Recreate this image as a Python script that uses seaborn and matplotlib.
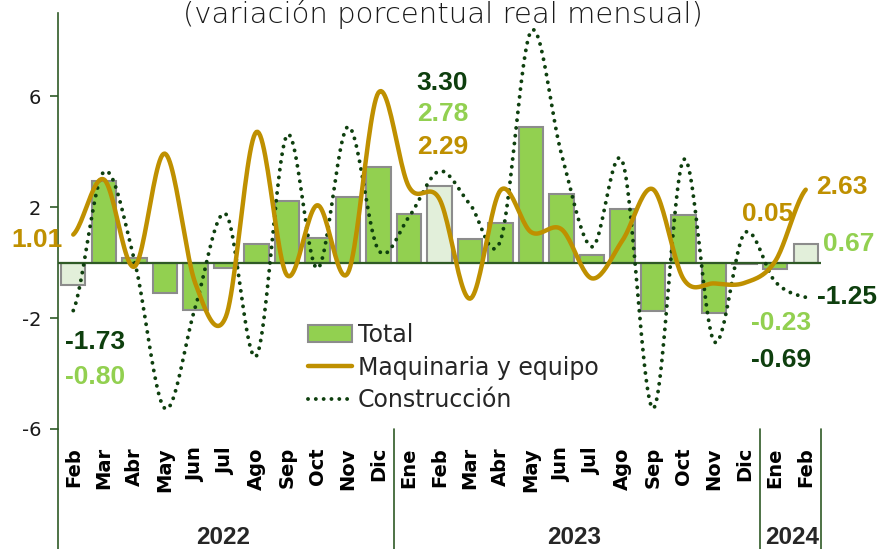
import numpy as np
import pandas as pd
import matplotlib
matplotlib.use('Agg')
import matplotlib.pyplot as plt
from matplotlib.patches import Patch
from matplotlib.lines import Line2D
import seaborn as sns

# --- Data (variación porcentual real mensual) ---
meses = ['Feb', 'Mar', 'Abr', 'May', 'Jun', 'Jul', 'Ago', 'Sep', 'Oct', 'Nov', 'Dic',
         'Ene', 'Feb', 'Mar', 'Abr', 'May', 'Jun', 'Jul', 'Ago', 'Sep', 'Oct', 'Nov', 'Dic',
         'Ene', 'Feb']
anios = ['2022', '2023', '2024']
total = [-0.80, 2.94, 0.17, -1.11, -1.71, -0.19, 0.67, 2.22, 0.89, 2.35, 3.43,
         1.76, 2.78, 0.85, 1.43, 4.88, 2.49, 0.26, 1.94, -1.74, 1.70, -1.82, -0.05,
         -0.23, 0.67]
maquinaria = [1.01, 3.00, -0.15, 3.93, -0.75, -1.95, 4.71, -0.45, 2.07, -0.37, 6.13,
              2.73, 2.29, -1.30, 2.61, 1.10, 1.20, -0.57, 0.81, 2.64, -0.60, -0.75, -0.73,
              0.05, 2.63]
construccion = [-1.73, 3.27, 0.10, -5.26, -1.60, 1.75, -3.37, 4.59, -0.21, 4.90, 0.45,
                1.65, 3.30, 2.10, 0.80, 8.35, 3.90, 0.57, 3.63, -5.26, 3.72, -2.85, 1.07,
                -0.69, -1.25]

VERDE = '#92D050'
VERDE_CLARO = '#E2EFDA'
ORO = '#BF9000'
OSCURO = '#0E3F0E'
EJE = '#2F5A26'


def suavizar(y, n=24):
    """Excel-like smoothed line (Catmull-Rom bezier) through the points."""
    y = np.asarray(y, float)
    p = np.concatenate([[y[0]], y, [y[-1]]])
    xs, ys = [], []
    t = np.linspace(0, 1, n, endpoint=False)
    for i in range(len(y) - 1):
        p0, p1, p2, p3 = p[i], p[i + 1], p[i + 2], p[i + 3]
        c1 = p1 + (p2 - p0) / 6
        c2 = p2 - (p3 - p1) / 6
        yy = (1 - t) ** 3 * p1 + 3 * (1 - t) ** 2 * t * c1 + 3 * (1 - t) * t ** 2 * c2 + t ** 3 * p2
        xs.append(i + t)
        ys.append(yy)
    xs.append([len(y) - 1])
    ys.append([y[-1]])
    return np.concatenate(xs), np.concatenate(ys)


sns.set_theme(style='white')
plt.rcParams['font.family'] = ['DejaVu Sans']
plt.rcParams['axes.unicode_minus'] = False

fig = plt.figure(figsize=(8.88, 5.49), dpi=100)
ax = fig.add_axes([58 / 888, 120 / 549, 763 / 888, 416 / 549])

df = pd.DataFrame({'pos': range(len(meses)), 'total': total})
colores = [VERDE_CLARO if m == 'Feb' else VERDE for m in meses]
sns.barplot(data=df, x='pos', y='total', hue='pos', palette=colores, legend=False,
            width=0.8, saturation=1, edgecolor='#8C8C8C', linewidth=1.5, ax=ax, zorder=2)

ax.axhline(0, color=EJE, lw=1.6, zorder=2.5)

xm, ym = suavizar(maquinaria)
sns.lineplot(x=xm, y=ym, color=ORO, lw=3.2, sort=False, estimator=None, ax=ax, zorder=4)
xc, yc = suavizar(construccion)
sns.lineplot(x=xc, y=yc, color=OSCURO, lw=2.8, sort=False, estimator=None, ax=ax,
             linestyle=(0, (0.01, 2.0)), dash_capstyle='round', zorder=3)

ax.set_xlim(-0.5, len(meses) - 0.5)
ax.set_ylim(-6, 9)
ax.set_xlabel('')
ax.set_ylabel('')
for s in ['top', 'right', 'bottom']:
    ax.spines[s].set_visible(False)
ax.spines['left'].set_color(EJE)
ax.spines['left'].set_linewidth(1.2)

ax.set_yticks([-6, -2, 2, 6])
ax.set_yticklabels(['-6', '-2', '2', '6'])
ax.tick_params(axis='y', direction='out', length=6, width=1.2, color=EJE,
               labelsize=14, labelcolor='#1a1a1a', pad=6, left=True)
ax.set_xticks(range(len(meses)))
ax.set_xticklabels(meses, rotation=90, fontweight='bold', fontsize=14, color='black')
ax.tick_params(axis='x', length=0, pad=13)

# category separators below the axis
for xv in [-0.5, 10.5, 22.5, 24.5]:
    ax.add_line(Line2D([xv, xv], [0, -0.3], transform=ax.get_xaxis_transform(),
                       color=EJE, lw=1.2, clip_on=False))

for txt, xv in zip(anios, [4.9, 16.4, 23.55]):
    ax.text(xv, -0.262, txt, transform=ax.get_xaxis_transform(), ha='center', va='center',
            fontsize=17.5, fontweight='bold', family='Liberation Sans')

# value labels
etiquetas = [
    ('1.01', -1.20, 0.81, ORO),
    ('-1.73', 0.70, -2.86, OSCURO),
    ('-0.80', 0.70, -4.13, VERDE),
    ('3.30', 12.10, 6.47, OSCURO),
    ('2.78', 12.10, 5.35, VERDE),
    ('2.29', 12.10, 4.16, ORO),
    ('0.05', 22.75, 1.75, ORO),
    ('2.63', 25.20, 2.71, ORO),
    ('0.67', 25.40, 0.67, VERDE),
    ('-1.25', 25.35, -1.25, OSCURO),
    ('-0.23', 23.20, -2.18, VERDE),
    ('-0.69', 23.20, -3.51, OSCURO),
]
for txt, xv, yv, col in etiquetas:
    ax.text(xv, yv, txt, ha='center', va='center', color=col, fontsize=19,
            fontweight='bold', family='Liberation Sans', clip_on=False, zorder=6)

handles = [Patch(facecolor=VERDE, edgecolor='#8C8C8C', lw=1.5),
           Line2D([], [], color=ORO, lw=3.2),
           Line2D([], [], color=OSCURO, lw=2.8, linestyle=(0, (0.01, 2.0)), dash_capstyle='round')]
fig.legend(handles, ['Total', 'Maquinaria y equipo', 'Construcción'],
           loc='upper left', bbox_to_anchor=(308 / 888, 1 - 323 / 549), frameon=False,
           fontsize=17, handlelength=1.85, handletextpad=0.25, labelspacing=0.37,
           borderpad=0, borderaxespad=0)

fig.text(443 / 888, 1 - 23 / 549, '(variación porcentual real mensual)', ha='center',
         va='baseline', fontsize=21, fontweight='light', color='#1a1a1a')

fig.savefig('out.png', dpi=100)
